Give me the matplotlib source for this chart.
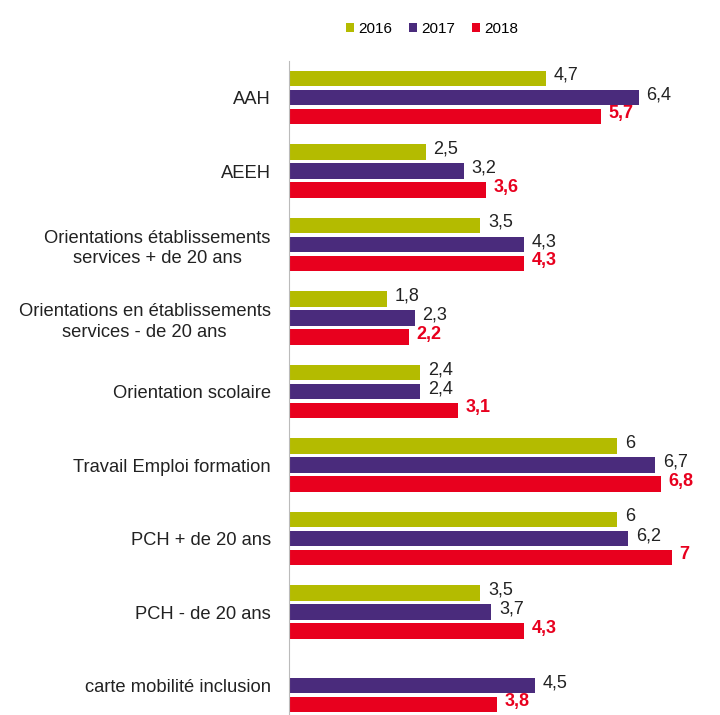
import numpy as np
import matplotlib.pyplot as plt

plt.rcParams['font.family'] = ['Liberation Sans', 'DejaVu Sans']

categories = ['AAH', 'AEEH', 'Orientations établissements\nservices + de 20 ans',
              'Orientations en établissements\nservices - de 20 ans', 'Orientation scolaire',
              'Travail Emploi formation', 'PCH + de 20 ans', 'PCH - de 20 ans',
              'carte mobilité inclusion']
v2016 = [4.7, 2.5, 3.5, 1.8, 2.4, 6, 6, 3.5, np.nan]
v2017 = [6.4, 3.2, 4.3, 2.3, 2.4, 6.7, 6.2, 3.7, 4.5]
v2018 = [5.7, 3.6, 4.3, 2.2, 3.1, 6.8, 7, 4.3, 3.8]
years = ['2016', '2017', '2018']
colors = ['#b4bb00', '#4a2b7c', '#e8001e']
label_colors = ['#222222', '#222222', '#e8001e']


def fmt(v):
    s = '{:g}'.format(v)
    return s.replace('.', ',')


fig = plt.figure(figsize=(7.2, 7.15), dpi=100)
ax = fig.add_axes([0.401, 0.0, 0.57, 0.915])

y = np.arange(len(categories))
h = 0.21
step = 0.26
for k, (vals, col, lc) in enumerate(zip([v2016, v2017, v2018], colors, label_colors)):
    pos = y + (k - 1) * step
    ax.barh(pos, vals, height=h, color=col, label=years[k])
    for p, v in zip(pos, vals):
        if np.isnan(v):
            continue
        ax.text(v + 0.14, p - 0.04, fmt(v), va='center', ha='left', fontsize=13,
                color=lc, fontweight='bold' if k == 2 else 'normal')

ax.set_xlim(0, 7.5)
ax.set_ylim(8.4, -0.5)
ax.set_yticks(y)
ax.set_yticklabels(categories, fontsize=13.2, color='#222222', linespacing=1.3,
                   multialignment='center')
ax.tick_params(axis='y', length=0, pad=13)
ax.set_xticks([])
for s in ['top', 'right', 'bottom']:
    ax.spines[s].set_visible(False)
ax.spines['left'].set_color('#bbbbbb')

fig.legend(loc='center', bbox_to_anchor=(0.6, 0.96), ncol=3, frameon=False,
           fontsize=11, handlelength=0.55, handleheight=0.55, handletextpad=0.25,
           columnspacing=1.1)

fig.savefig('out.png', dpi=100)
